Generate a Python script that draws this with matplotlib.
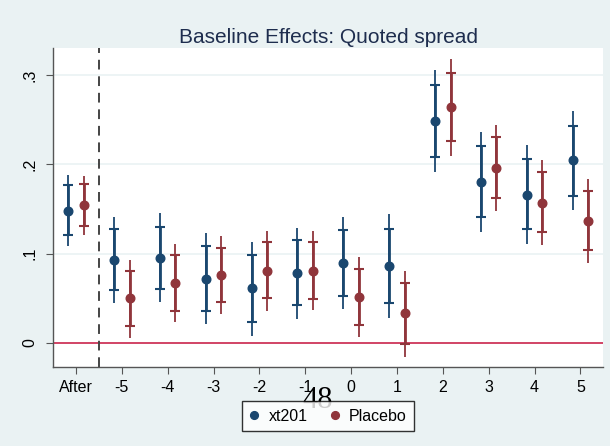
import matplotlib.pyplot as plt
import numpy as np

plt.rcParams["font.family"] = ["Liberation Sans", "DejaVu Sans"]

labels = ["After", "-5", "-4", "-3", "-2", "-1", "0", "1", "2", "3", "4", "5"]

# xt201: point estimate, inner CI (capped), outer CI
xt_est = [0.148, 0.093, 0.095, 0.072, 0.061, 0.078, 0.090, 0.086, 0.248, 0.180, 0.166, 0.205]
xt_lo_in = [0.121, 0.059, 0.060, 0.036, 0.024, 0.042, 0.053, 0.045, 0.208, 0.141, 0.127, 0.165]
xt_hi_in = [0.177, 0.127, 0.130, 0.109, 0.098, 0.115, 0.126, 0.127, 0.289, 0.220, 0.206, 0.243]
xt_lo_out = [0.108, 0.045, 0.046, 0.021, 0.008, 0.027, 0.038, 0.028, 0.191, 0.124, 0.111, 0.149]
xt_hi_out = [0.188, 0.141, 0.145, 0.123, 0.113, 0.129, 0.141, 0.144, 0.306, 0.236, 0.222, 0.260]

# Placebo
pl_est = [0.154, 0.050, 0.067, 0.076, 0.081, 0.081, 0.051, 0.033, 0.264, 0.196, 0.157, 0.137]
pl_lo_in = [0.131, 0.019, 0.036, 0.046, 0.050, 0.049, 0.020, -0.001, 0.226, 0.162, 0.124, 0.104]
pl_hi_in = [0.178, 0.080, 0.099, 0.106, 0.113, 0.113, 0.083, 0.067, 0.302, 0.230, 0.191, 0.170]
pl_lo_out = [0.121, 0.006, 0.023, 0.032, 0.036, 0.037, 0.007, -0.016, 0.209, 0.148, 0.110, 0.090]
pl_hi_out = [0.187, 0.093, 0.111, 0.120, 0.125, 0.125, 0.096, 0.081, 0.318, 0.244, 0.205, 0.184]

blue = "#1a476f"
red = "#90353b"
bg = "#eaf2f3"

fig = plt.figure(figsize=(6.1, 4.46), dpi=100, facecolor=bg)
ax = fig.add_axes([0.087, 0.177, 0.902, 0.715])
ax.set_facecolor("white")

x = np.arange(len(labels))
off = 0.17


def draw(xs, est, lo_in, hi_in, lo_out, hi_out, color, label):
    ax.vlines(xs, lo_out, hi_out, color=color, lw=1.3, zorder=3)
    est = np.array(est)
    yerr = [est - np.array(lo_in), np.array(hi_in) - est]
    ax.errorbar(xs, est, yerr=yerr, fmt="none", ecolor=color, elinewidth=2,
                capsize=3.4, capthick=1.5, zorder=4)
    ax.plot(xs, est, "o", color=color, ms=6.2, zorder=5, label=label)


draw(x - off, xt_est, xt_lo_in, xt_hi_in, xt_lo_out, xt_hi_out, blue, "xt201")
draw(x + off, pl_est, pl_lo_in, pl_hi_in, pl_lo_out, pl_hi_out, red, "Placebo")

ax.axhline(0, color="#d0365a", lw=1.3, zorder=2)
ax.axvline(0.5, color="#444444", lw=1.4, ls=(0, (5, 3.5)), zorder=2)

ax.set_xlim(-0.5, 11.5)
ax.set_ylim(-0.027, 0.33)
ax.set_yticks([0, 0.1, 0.2, 0.3])
ax.set_yticklabels(["0", ".1", ".2", ".3"], rotation=90, va="center")
ax.set_xticks(x)
ax.set_xticklabels(labels)
ax.yaxis.grid(True, color=bg, lw=1.2)
ax.set_axisbelow(True)

for s in ["top", "right"]:
    ax.spines[s].set_visible(False)
for s in ["left", "bottom"]:
    ax.spines[s].set_color("#555555")
    ax.spines[s].set_linewidth(1.0)
ax.tick_params(axis="both", direction="out", length=5, color="#555555",
               labelsize=11.5, labelcolor="black")
ax.tick_params(axis="x", pad=4)
ax.tick_params(axis="y", pad=6)

ax.set_title("Baseline Effects: Quoted spread", fontsize=15, color="#1e2d4e", pad=4)

fig.legend(loc="center", bbox_to_anchor=(0.538, 0.067), ncol=2, frameon=True,
           fancybox=False, edgecolor="black", fontsize=11.5, handlelength=0.6,
           handletextpad=0.6, columnspacing=1.4, borderpad=0.45,
           borderaxespad=0, markerscale=0.9)

fig.text(0.521, 0.102, "48", fontsize=22, family="Liberation Serif",
         ha="center", va="center", color="black")

fig.savefig("out.png", dpi=100, facecolor=bg)
